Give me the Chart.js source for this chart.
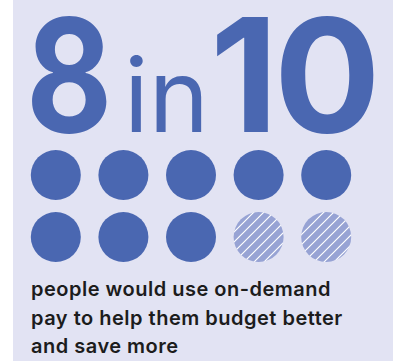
<!DOCTYPE html>
<html>
<head>
<meta charset="utf-8">
<script src="https://cdn.jsdelivr.net/npm/chart.js@4.4.1/dist/chart.umd.min.js"></script>
<style>
  body { margin: 0; width: 393px; height: 361px; overflow: hidden; background: #fff; font-family: Inter, "Noto Sans", sans-serif; }
  #panel { position: absolute; left: 13px; top: 0; width: 380px; height: 361px; background: #e2e3f3; }
  .head { position: absolute; color: #4a67b1; white-space: nowrap; }
  #share { left: 26px; top: -4px; font-size: 158px; line-height: 158px; font-weight: 700; transform: scaleX(0.84); transform-origin: left top; }
  #word { left: 124px; top: 44px; font-size: 102px; line-height: 102px; font-weight: 400; }
  #total { left: 210px; top: -4px; font-size: 158px; line-height: 158px; font-weight: 700; letter-spacing: -4px; }
  #dots { position: absolute; left: 22px; top: 144px; width: 338px; height: 124px; }
  #caption { position: absolute; left: 31px; top: 275px; width: 350px; font-size: 20px; font-weight: 600; letter-spacing: 0.5px; line-height: 28.5px; color: #1c1c1c; }
</style>
</head>
<body>
<div id="panel"></div>
<div class="head" id="share"></div>
<div class="head" id="word">in</div>
<div class="head" id="total"></div>
<div id="dots"><canvas id="chart"></canvas></div>
<div id="caption">people would use on-demand<br>pay to help them budget better<br>and save more</div>
<script>
// 8 of every 10 people surveyed
const share = 8;
const total = 10;

// grid slot for each person, five to a row
const dotCols = [0, 1, 2, 3, 4, 0, 1, 2, 3, 4];
const dotRows = [0, 0, 0, 0, 0, 1, 1, 1, 1, 1];

const solidColor = '#4a67b1';
const hatchBase = '#97a3d4';

document.getElementById('share').textContent = share;
document.getElementById('total').textContent = total;

function hatchPattern(){
	var size = 10;
	var c = document.createElement('canvas');
	c.width = size;
	c.height = size;
	var ctx = c.getContext('2d');
	ctx.fillStyle = hatchBase;
	ctx.fillRect(0, 0, size, size);
	ctx.strokeStyle = '#ffffff';
	ctx.lineWidth = 1.2;
	ctx.beginPath();
	ctx.moveTo(-1, 1); ctx.lineTo(1, -1);
	ctx.moveTo(0, size); ctx.lineTo(size, 0);
	ctx.moveTo(size - 1, size + 1); ctx.lineTo(size + 1, size - 1);
	ctx.stroke();
	return ctx.createPattern(c, 'repeat');
}

var hatch = hatchPattern();
var points = dotCols.map((x, i) => ({ x: x, y: dotRows[i] }));

new Chart(document.getElementById('chart'), {
	type: 'scatter',
	data: {
		datasets: [{
			label: 'people',
			data: points,
			pointRadius: 25,
			pointHoverRadius: 25,
			pointBorderWidth: 0,
			pointBackgroundColor: (ctx) => ctx.dataIndex < share ? solidColor : hatch,
			clip: false
		}]
	},
	options: {
		responsive: true,
		maintainAspectRatio: false,
		animation: false,
		layout: { padding: 0, autoPadding: false },
		plugins: { legend: { display: false }, tooltip: { enabled: false } },
		scales: {
			x: { type: 'linear', min: -0.5, max: 4.5, display: false },
			y: { type: 'linear', min: -0.5, max: 1.5, reverse: true, display: false }
		}
	}
});
</script>
</body>
</html>
